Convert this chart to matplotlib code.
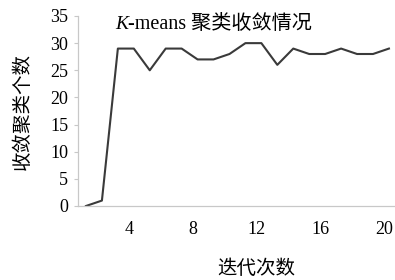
import matplotlib
matplotlib.use('Agg')
import matplotlib.pyplot as plt
import matplotlib.transforms as mtransforms

# iteration number and number of converged clusters
iters = list(range(1, 21))
n_clusters = [0, 1, 29, 29, 25, 29, 29, 27, 27, 28, 30, 30, 26, 29, 28, 28, 29, 28, 28, 29]
xticks = [4, 8, 12, 16, 20]
yticks = [0, 5, 10, 15, 20, 25, 30, 35]

fonts = ['Liberation Serif', 'Noto Sans CJK SC']
plt.rcParams['font.family'] = fonts

fig = plt.figure(figsize=(3.95, 2.8), dpi=100)
ax = fig.add_axes([78/395, 1-206/280, 1-78/395, 190/280])

ax.plot(iters, n_clusters, color='#3a3a3a', linewidth=1.5)

ax.set_xlim(0.5, 20.38)
ax.set_ylim(0, 35)
ax.set_xticks(xticks)
ax.set_yticks(yticks)
ax.tick_params(axis='x', length=0, pad=11, labelsize=13)
ax.tick_params(axis='y', length=3, width=0.8, color='#c8c8c8', pad=4, labelsize=13)

# labels in the original sit a little left of their points
shift = mtransforms.ScaledTranslation(-5/100, 0, fig.dpi_scale_trans)
for lab in ax.get_xticklabels():
    lab.set_transform(lab.get_transform() + shift)

for s in ['top', 'right']:
    ax.spines[s].set_visible(False)
for s in ['left', 'bottom']:
    ax.spines[s].set_color('#c8c8c8')
    ax.spines[s].set_linewidth(0.9)

# title: italic K then the rest
tx = (128 - 78) / 317
ax.text(tx, 0.953, 'K', transform=ax.transAxes, ha='right', va='center',
        fontsize=14, style='italic')
ax.text(tx, 0.953, '-means 聚类收敛情况', transform=ax.transAxes,
        ha='left', va='center', fontsize=14.5)

ax.set_xlabel('迭代次数', fontsize=14)
ax.xaxis.set_label_coords(0.561, -0.283)
ax.set_ylabel('收敛聚类个数', fontsize=14)
ax.yaxis.set_label_coords(-0.145, 0.5)

fig.savefig('out.png', dpi=100)
